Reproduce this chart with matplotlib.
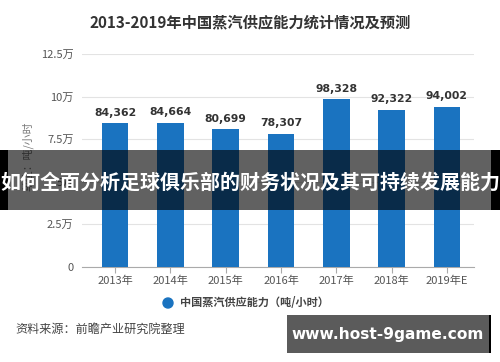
import matplotlib
matplotlib.use("Agg")
import matplotlib.pyplot as plt
from matplotlib.patches import Rectangle, Circle

plt.rcParams['font.family'] = ['Noto Sans CJK SC', 'DejaVu Sans']

categories = ["2013年", "2014年", "2015年", "2016年", "2017年", "2018年", "2019年E"]
values = [84362, 84664, 80699, 78307, 98328, 92322, 94002]
ytick_vals = [0, 2.5, 5, 7.5, 10, 12.5]
ytick_labels = ["0", "2.5万", "5万", "7.5万", "10万", "12.5万"]
title = "2013-2019年中国蒸汽供应能力统计情况及预测"
series_name = "中国蒸汽供应能力（吨/小时）"
ylabel = "单位：吨/小时"
source = "资料来源：前瞻产业研究院整理"
banner = "如何全面分析足球俱乐部的财务状况及其可持续发展能力"
site = "www.host-9game.com"

W, H = 500, 362
fig = plt.figure(figsize=(5, 3.62), dpi=100)
fig.patch.set_facecolor("white")

def px(x, y):
    return x / W, 1 - y / H

ax = fig.add_axes([82 / W, 1 - 267 / H, 392 / W, (267 - 54) / H])
x = list(range(len(categories)))
vals10k = [v / 10000 for v in values]
bar_color = "#1a73c0"
bars = ax.bar(x, vals10k, width=0.48, color=bar_color, zorder=3)
for xi, v, raw in zip(x, vals10k, values):
    ax.annotate(f"{raw:,}", (xi, v), xytext=(0, 4), textcoords="offset points",
                ha="center", va="bottom", fontsize=7.8, fontweight="bold",
                color="#333333", family=["DejaVu Sans"])

ax.set_xlim(-0.6, 6.49)
ax.set_ylim(0, 12.5)
ax.set_yticks(ytick_vals)
ax.set_yticklabels(ytick_labels)
ax.set_xticks(x)
ax.set_xticklabels(categories)
ax.grid(axis="y", color="#e3e3e3", linewidth=0.8, zorder=0)
for s in ["top", "right", "left"]:
    ax.spines[s].set_visible(False)
ax.spines["bottom"].set_color("#aaaaaa")
ax.spines["bottom"].set_linewidth(0.8)
ax.tick_params(axis="y", length=0, pad=6, labelsize=8, labelcolor="#555555")
ax.tick_params(axis="x", length=4, color="#aaaaaa", pad=2, labelsize=8, labelcolor="#555555")
ax.set_ylabel(ylabel, fontsize=7.8, color="#777777", labelpad=3)
ax.yaxis.set_label_coords(-0.125, 0.52)

fig.text(0.5, 1 - 22 / H, title, ha="center", va="center", fontsize=11,
         fontweight="bold", color="#333333")

# legend
cx, cy = px(168, 303)
fig.patches.append(Circle((168, H - 303), 5, transform=None, color=bar_color,
                          figure=fig))
fig.text(180 / W, cy, series_name, ha="left", va="center", fontsize=8,
         fontweight="bold", color="#444444")

fig.text(15 / W, 1 - 329 / H, source, ha="left", va="center", fontsize=8.7,
         color="#444444")

# banner overlay
fig.patches.append(Rectangle((0, 1 - 210 / H), 1, 60 / H, transform=fig.transFigure,
                             facecolor="black", alpha=0.62, zorder=5, figure=fig))
fig.patches.append(Rectangle((0, 1 - 210 / H), 8 / W, 60 / H, transform=fig.transFigure,
                             facecolor="black", zorder=5, figure=fig))
fig.patches.append(Rectangle((491 / W, 1 - 210 / H), 9 / W, 60 / H, transform=fig.transFigure,
                             facecolor="black", zorder=5, figure=fig))
fig.text(0.5, 1 - 182 / H, banner, ha="center", va="center", fontsize=14.4,
         fontweight="bold", color="white", zorder=6)

# site box
fig.patches.append(Rectangle((287 / W, 1 - 353 / H), 203 / W, 38 / H, transform=fig.transFigure,
                             facecolor="#5b5b5b", zorder=5, figure=fig))
fig.patches.append(Rectangle((489 / W, 1 - 353 / H), 2 / W, 38 / H, transform=fig.transFigure,
                             facecolor="black", zorder=5, figure=fig))
fig.text(388 / W, 1 - 334 / H, site, ha="center", va="center", fontsize=11.1,
         fontweight="bold", color="white", zorder=6, family=["DejaVu Sans"])

fig.savefig("out.png", dpi=100)
